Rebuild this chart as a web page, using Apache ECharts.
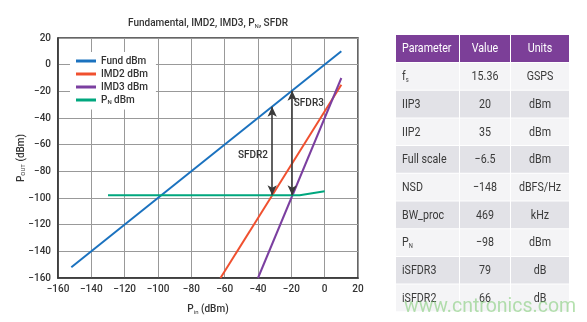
<!DOCTYPE html>
<html><head><meta charset="utf-8">
<script src="https://cdn.jsdelivr.net/npm/echarts@6/dist/echarts.min.js"></script>
<style>html,body{margin:0;padding:0;background:#fff}#c{width:587px;height:322px}</style>
</head><body><div id="c"></div>
<script>
// ---- data ----
var fundData = [[-152, -152], [10, 10]];
var imd2Data = [[-62.5, -160], [10, -15]];
var imd3Data = [[-40, -160], [10, -10]];
var pnData = [[-130, -98], [-15, -98], [0, -95]];
var sfdr2 = {x: -31.5, top: -31.5, bottom: -98};
var sfdr3 = {x: -19.5, top: -19.5, bottom: -98};
var xTicks = [-160, -140, -120, -100, -80, -60, -40, -20, 0, 20];
var yTicks = [-160, -140, -120, -100, -80, -60, -40, -20, 0, 20];
var tableHeader = ['Parameter', 'Value', 'Units'];
var tableParams = ['{a|f}{s|s}', 'IIP3', 'IIP2', 'Full scale', 'NSD', 'BW_proc', '{a|P}{s|N}', 'iSFDR3', 'iSFDR2'];
var tableValues = ['15.36', '20', '35', '\u22126.5', '\u2212148', '469', '\u221298', '79', '66'];
var tableUnits = ['GSPS', 'dBm', 'dBm', 'dBm', 'dBFS/Hz', 'kHz', 'dBm', 'dB', 'dB'];

var FONT = "Roboto, 'DejaVu Sans', sans-serif";
var NARROW = "Roboto, sans-serif";
var minus = function (v) { return String(v).replace('-', '\u2212'); };
var nameRich = {a: {fontSize: 10, fontFamily: FONT, fontWeight: 500, color: '#333', fill: '#333'},
  s: {fontSize: 6, fontFamily: FONT, color: '#333', fill: '#333', padding: [5, 0, 0, 0]}};

// ---- table graphics ----
var colX = [396, 460, 511];
var colW = [63, 50, 58];
var top0 = 35, headH = 27, rowH = 27.7;
var g = [];
var SX = 0.82;
for (var c = 0; c < 3; c++) {
  g.push({type: 'rect', shape: {x: colX[c], y: top0, width: colW[c], height: headH}, style: {fill: '#7c3f98'}});
  g.push({type: 'text', x: c === 0 ? colX[c] + 6 : colX[c] + colW[c] / 2, y: top0 + headH / 2, scaleX: SX,
    style: {text: tableHeader[c], fill: '#fff', font: '13px ' + NARROW, align: c === 0 ? 'left' : 'center', verticalAlign: 'middle'}});
}
for (var r = 0; r < tableParams.length; r++) {
  var y = top0 + headH + 1 + r * rowH;
  var fill = r % 2 === 0 ? '#f4f4f6' : '#e2e2e7';
  var cells = [tableParams[r], tableValues[r], tableUnits[r]];
  for (var c2 = 0; c2 < 3; c2++) {
    g.push({type: 'rect', shape: {x: colX[c2], y: y, width: colW[c2], height: rowH - 1}, style: {fill: fill}});
    g.push({type: 'text', x: c2 === 0 ? colX[c2] + 6 : colX[c2] + colW[c2] / 2, y: y + rowH / 2, scaleX: SX,
      style: {text: cells[c2], fill: '#3a3a3a', font: '13px ' + NARROW, align: c2 === 0 ? 'left' : 'center', verticalAlign: 'middle',
        rich: {a: {fontSize: 13, fontFamily: NARROW, fill: '#3a3a3a'}, s: {fontSize: 7, fontFamily: NARROW, fill: '#3a3a3a', verticalAlign: 'bottom', padding: [7, 0, 0, 0]}}}});
  }
}
g.push({type: 'text', x: 404, y: 297, z: 100,
  style: {text: 'www.cntronics.com', fill: 'rgba(120,200,110,0.55)', font: '19.5px ' + FONT}});
g.push({type: 'text', x: 208, y: 23, style: {text: '{a|Fundamental, IMD2, IMD3, P}{s|N}{a|, SFDR}', align: 'center', verticalAlign: 'middle',
  rich: {a: {fontSize: 10, fontFamily: FONT, fontWeight: 500, fill: '#333'}, s: {fontSize: 6, fontFamily: FONT, fill: '#333', padding: [6, 0, 0, 0]}}}});
g.push({type: 'text', x: 21, y: 158, rotation: Math.PI / 2, style: {text: '{a|P}{s|OUT}{a| (dBm)}', align: 'center', verticalAlign: 'middle', rich: nameRich}});

var chart = echarts.init(document.getElementById('c'));
var arrowLine = function (d) {
  return [{coord: [d.x, d.top]}, {coord: [d.x, d.bottom]}];
};
chart.setOption({
  animation: false,
  backgroundColor: '#fff',
  grid: {left: 58, right: 229, top: 38, bottom: 44, show: true, borderColor: '#333', borderWidth: 1.5},
  legend: {
    orient: 'vertical', left: 70, top: 52, itemWidth: 20, itemHeight: 3, itemGap: 3,
    backgroundColor: '#fff', padding: [4, 8, 4, 6], icon: 'rect',
    textStyle: {fontSize: 10, fontFamily: FONT, fontWeight: 500, color: '#333', rich: nameRich},
    formatter: function (n) { return n === 'PN dBm' ? '{a|P}{s|N}{a| dBm}' : n; },
    data: ['Fund dBm', 'IMD2 dBm', 'IMD3 dBm', 'PN dBm']
  },
  xAxis: {
    type: 'value', min: xTicks[0], max: xTicks[xTicks.length - 1], interval: 20,
    name: '{a|P}{s|in}{a| (dBm)}', nameLocation: 'middle', nameGap: 26,
    nameTextStyle: {rich: nameRich},
    axisLine: {onZero: false, lineStyle: {color: '#333', width: 1.5}}, axisTick: {show: false},
    axisLabel: {fontSize: 10, fontFamily: FONT, fontWeight: 500, color: '#333', margin: 6, formatter: minus},
    splitLine: {lineStyle: {color: '#999', width: 1}}
  },
  yAxis: {
    type: 'value', min: yTicks[0], max: yTicks[yTicks.length - 1], interval: 20,
    axisLine: {show: true, onZero: false, lineStyle: {color: '#333', width: 1.5}}, axisTick: {show: false},
    axisLabel: {fontSize: 10, fontFamily: FONT, fontWeight: 500, color: '#333', margin: 7, formatter: minus},
    splitLine: {lineStyle: {color: '#999', width: 1}}
  },
  series: [
    {name: 'Fund dBm', type: 'line', data: fundData, symbol: 'none', lineStyle: {color: '#1b72bf', width: 2}, itemStyle: {color: '#1b72bf'}},
    {name: 'IMD2 dBm', type: 'line', data: imd2Data, symbol: 'none', lineStyle: {color: '#f0502f', width: 2}, itemStyle: {color: '#f0502f'}},
    {name: 'IMD3 dBm', type: 'line', data: imd3Data, symbol: 'none', lineStyle: {color: '#7b3fa0', width: 2}, itemStyle: {color: '#7b3fa0'}},
    {name: 'PN dBm', type: 'line', data: pnData, symbol: 'none', lineStyle: {color: '#00a77e', width: 2}, itemStyle: {color: '#00a77e'}},
    {type: 'line', data: [], silent: true,
      markLine: {silent: true, symbol: ['arrow', 'arrow'], symbolSize: [7, 10], animation: false,
        lineStyle: {color: '#3a3a3a', width: 1.6, type: 'solid'}, label: {show: false},
        data: [arrowLine(sfdr2), arrowLine(sfdr3)]},
      markPoint: {silent: true, symbol: 'circle', symbolSize: 0,
        label: {show: true, fontSize: 10, fontFamily: FONT, fontWeight: 500, color: '#333'},
        data: [
          {coord: [-43, -68], label: {formatter: 'SFDR2', position: 'inside'}},
          {coord: [-9.5, -29], label: {formatter: 'SFDR3', position: 'inside'}}
        ]}}
  ],
  graphic: g
});
</script>
</body></html>
